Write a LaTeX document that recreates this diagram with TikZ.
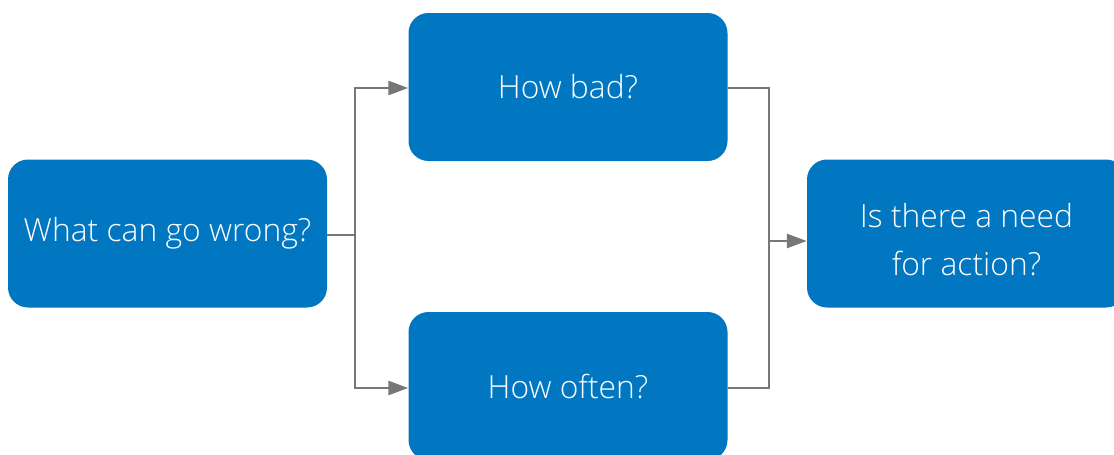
\documentclass[tikz,border=0pt]{standalone}
\usepackage{fontspec}
\setmainfont{Open Sans Light}
\usetikzlibrary{arrows.meta}
\definecolor{boxblue}{HTML}{0077C0}
\definecolor{linegray}{HTML}{777777}
\begin{document}
\begin{tikzpicture}[x=1pt,y=-1pt,
  qbox/.style={fill=boxblue, rounded corners=20pt, minimum width=319pt, minimum height=148pt,
    text=white, font=\fontsize{31.8}{48}\selectfont, align=center, inner sep=0pt},
  conn/.style={draw=linegray, line width=2.8pt},
  arr/.style={conn, -{Triangle[length=20pt,width=14pt]}}]
\useasboundingbox (0,0) rectangle (1114,455);
\clip (0,0) rectangle (1114,455);
\node[qbox] (wrong) at (167.5,233.5) {What can go wrong?};
\node[qbox] (bad) at (568,87) {How bad?};
\node[qbox] (often) at (568,386) {How often?};
\node[qbox] (need) at (966.5,233.5) {\raisebox{-6pt}[\height][\depth]{\parbox{300pt}{\centering Is there a need\\for action?}}};
\coordinate (split) at (355,235);
\coordinate (join) at (769,241);
\draw[conn] (wrong.east |- split) -- (split);
\draw[arr] (split) |- (bad.west |- 0,88);
\draw[arr] (split) |- (often.west |- 0,388);
\draw[conn] (bad.east |- 0,88) -| (join);
\draw[conn] (often.east |- 0,388) -| (join);
\draw[arr] (join) -- (need.west |- join);
\end{tikzpicture}
\end{document}
